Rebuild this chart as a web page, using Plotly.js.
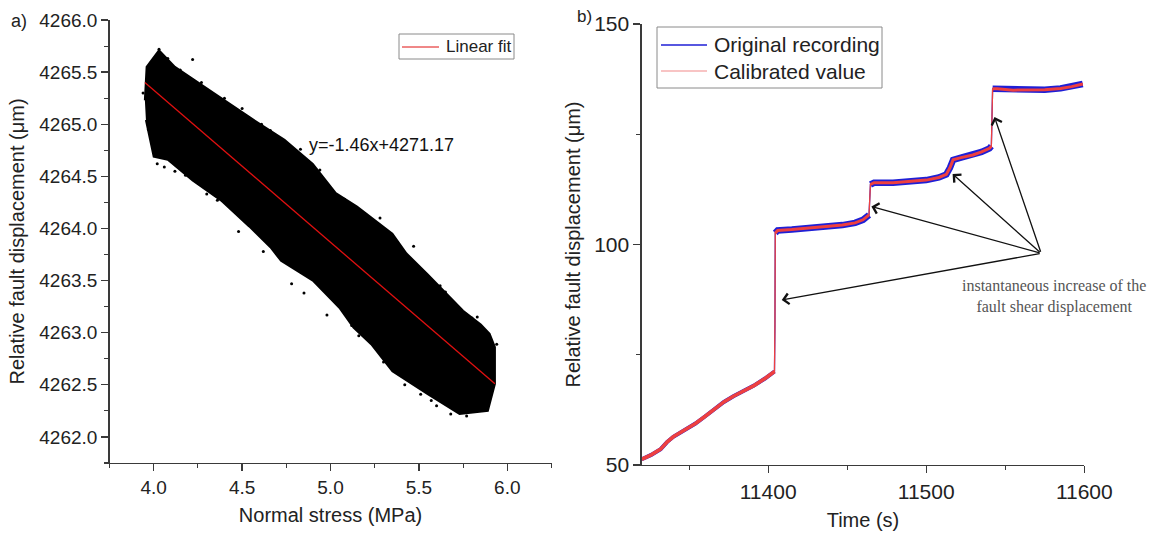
<!DOCTYPE html>
<html><head><meta charset="utf-8">
<script src="https://cdn.plot.ly/plotly-3.0.1.min.js"></script>
<style>html,body{margin:0;padding:0;background:#fff}#chart{width:1164px;height:534px}</style>
</head><body><div id="chart"></div>
<script>
// ---------- Panel a) : scatter cloud envelope (read from picture) ----------
const cloudUpperStress = [3.95, 3.96, 4.03, 4.12, 4.34, 4.54, 4.74, 4.90, 5.03, 5.15, 5.35, 5.43, 5.55, 5.75, 5.85, 5.90, 5.93];
const cloudUpperDisp   = [4265.23, 4265.55, 4265.71, 4265.55, 4265.30, 4265.07, 4264.85, 4264.62, 4264.34, 4264.21, 4263.95, 4263.76, 4263.56, 4263.21, 4263.08, 4262.99, 4262.86];
const cloudLowerStress = [5.93, 5.89, 5.73, 5.55, 5.35, 5.23, 5.13, 5.05, 4.90, 4.72, 4.66, 4.54, 4.38, 4.22, 4.08, 4.00, 3.98, 3.956];
const cloudLowerDisp   = [4262.51, 4262.25, 4262.22, 4262.41, 4262.63, 4262.89, 4263.05, 4263.24, 4263.50, 4263.69, 4263.82, 4264.02, 4264.27, 4264.46, 4264.66, 4264.69, 4264.85, 4265.04];
// isolated points at the fringe of the cloud
const strayStress = [4.22, 4.03, 4.08, 4.50, 4.66, 4.94, 5.01, 5.41, 4.06, 4.18, 4.36, 4.44, 5.65, 5.83, 5.94, 5.68, 5.77, 5.51, 5.23, 5.12, 4.78, 5.57,
  3.94, 3.97, 4.15, 4.27, 4.40, 4.61, 4.83, 5.08, 5.28, 5.47, 5.62, 5.80, 5.91, 5.80, 5.60, 5.42, 5.30, 5.16, 4.98, 4.85, 4.62, 4.48, 4.30, 4.12, 4.02];
const strayDisp   = [4265.62, 4265.72, 4265.63, 4265.15, 4264.94, 4264.56, 4264.36, 4263.76, 4264.59, 4264.51, 4264.27, 4264.22, 4263.39, 4263.15, 4262.89, 4262.22, 4262.20, 4262.41, 4263.02, 4263.07, 4263.47, 4262.35,
  4265.30, 4264.95, 4265.52, 4265.40, 4265.25, 4265.00, 4264.76, 4264.28, 4264.10, 4263.83, 4263.45, 4263.14, 4262.70, 4262.28, 4262.30, 4262.50, 4262.72, 4262.97, 4263.17, 4263.38, 4263.78, 4263.97, 4264.33, 4264.55, 4264.62];
// linear fit y = -1.46x + 4271.17 (end points)
const fitStress = [3.95, 5.93];
const fitDisp   = [4265.40, 4262.51];

// ---------- Panel b) : displacement vs time ----------
const timeS = [11320, 11326, 11332, 11336, 11340, 11347, 11354, 11360, 11366, 11372, 11378, 11384, 11391, 11398, 11404,
  11404.3, 11404.5, 11406, 11415, 11426, 11437, 11447, 11455, 11460, 11463.8,
  11464.7, 11467, 11479, 11490, 11500, 11508, 11512.7, 11515, 11517, 11522, 11529.5, 11535, 11540, 11541.2,
  11541.5, 11542, 11545, 11555, 11565, 11575, 11585, 11592, 11599];
const originalUm = [51.3, 52.3, 53.6, 55.2, 56.4, 57.8, 59.4, 61.0, 62.6, 64.3, 65.6, 66.7, 68.0, 69.6, 71.2,
  82.0, 102.6, 103.2, 103.4, 103.7, 104.0, 104.4, 104.9, 105.6, 106.7,
  113.6, 114.0, 114.0, 114.3, 114.6, 115.2, 115.9, 117.4, 119.2, 119.7, 120.3, 121.0, 121.8, 122.3,
  130.5, 135.3, 135.3, 135.0, 135.0, 135.1, 135.4, 135.8, 136.4];
const calibratedUm = [51.3, 52.3, 53.6, 55.2, 56.4, 57.8, 59.4, 61.0, 62.6, 64.3, 65.6, 66.7, 68.0, 69.6, 71.2,
  82.0, 102.6, 103.2, 103.4, 103.7, 104.0, 104.4, 104.9, 105.6, 106.7,
  113.6, 114.0, 114.0, 114.3, 114.6, 115.2, 115.9, 117.4, 119.2, 119.7, 120.3, 121.0, 121.8, 122.3,
  130.5, 135.3, 135.3, 135.0, 135.0, 135.1, 135.4, 135.8, 136.4];
// arrows: targets (the slip events) and common tail
const arrowTime = [11408.6, 11465.3, 11516.7, 11543.2];
const arrowDisp = [87.4, 108.6, 116.0, 128.9];
const arrowTailTime = 11572.7, arrowTailDisp = 98.0;
const noteLines = ['instantaneous increase of the', 'fault shear displacement'];
const legendA = ['Linear fit'];
const legendB = ['Original recording', 'Calibrated value'];

// ---------- helpers ----------
const FONT = 'Liberation Sans, Arial, sans-serif';
const AX = '#3a3a3a';
const BLUE = '#1f1fd6', RED = '#ee4040', FITRED = '#e01010';
const W = 1164, H = 534;
const px = v => v / W, py = v => 1 - v / H;

function segments(t, v) {   // split a curve where it jumps
  const segs = []; let cur = {x: [t[0]], y: [v[0]]};
  for (let i = 1; i < t.length; i++) {
    if (Math.abs(v[i] - v[i-1]) > 3) { segs.push(cur); cur = {x: [], y: []}; }
    cur.x.push(t[i]); cur.y.push(v[i]);
  }
  segs.push(cur);
  return segs.filter(s => s.x.length > 1);
}

const traces = [];
traces.push({
  x: cloudUpperStress.concat(cloudLowerStress), y: cloudUpperDisp.concat(cloudLowerDisp),
  type: 'scatter', mode: 'lines', fill: 'toself', fillcolor: '#000', line: {color: '#000', width: 2},
  xaxis: 'x', yaxis: 'y', showlegend: false, hoverinfo: 'skip'
});
traces.push({
  x: strayStress, y: strayDisp, type: 'scatter', mode: 'markers',
  marker: {color: '#000', size: 3}, xaxis: 'x', yaxis: 'y', showlegend: false
});
traces.push({
  x: fitStress, y: fitDisp, type: 'scatter', mode: 'lines', name: legendA[0],
  line: {color: FITRED, width: 1.3}, xaxis: 'x', yaxis: 'y', showlegend: false
});

function addSeries(t, v, color, bandW, bandW0, name) {
  segments(t, v).forEach((s, i) => traces.push({
    x: s.x, y: s.y, type: 'scatter', mode: 'lines', line: {color: color, width: i === 0 ? bandW0 : bandW},
    xaxis: 'x2', yaxis: 'y2', showlegend: false, hoverinfo: 'skip'
  }));
  traces.push({
    x: t, y: v, type: 'scatter', mode: 'lines', name: name,
    line: {color: color, width: 1.3}, xaxis: 'x2', yaxis: 'y2', showlegend: false
  });
}
addSeries(timeS, originalUm, BLUE, 6.5, 4, legendB[0]);
addSeries(timeS, calibratedUm, RED, 3, 3.6, legendB[1]);

function minorOf(dtick, tick0) {
  return {ticks: 'outside', ticklen: 4, tickwidth: 1.1, tickcolor: AX, dtick: dtick, tick0: tick0, showgrid: false};
}
function axisBase(extra) {
  return Object.assign({
    showline: true, linecolor: AX, linewidth: 1.3, mirror: false,
    showgrid: false, zeroline: false, ticks: 'outside', ticklen: 7, tickwidth: 1.3, tickcolor: AX,
    tickmode: 'linear', tickfont: {family: FONT, size: 19, color: '#222'}
  }, extra);
}

const annotations = [
  {text: 'a)', xref: 'paper', yref: 'paper', x: px(9), y: py(21), xanchor: 'left', yanchor: 'middle',
   showarrow: false, font: {family: FONT, size: 18, color: '#222'}},
  {text: 'b)', xref: 'paper', yref: 'paper', x: px(575), y: py(17), xanchor: 'left', yanchor: 'middle',
   showarrow: false, font: {family: FONT, size: 17, color: '#222'}},
  {text: 'y=-1.46x+4271.17', xref: 'x', yref: 'y', x: 5.29, y: 4264.8, xanchor: 'center', yanchor: 'middle',
   showarrow: false, font: {family: FONT, size: 18, color: '#111'}},
  {text: noteLines.join('<br>'), xref: 'x2', yref: 'y2', x: 11581, y: 88.1, xanchor: 'center', yanchor: 'middle',
   align: 'center', showarrow: false, font: {family: 'Liberation Serif, Times New Roman, serif', size: 16, color: '#555'}},
  // legend texts
  {text: legendA[0], xref: 'paper', yref: 'paper', x: px(444), y: py(47), xanchor: 'left', yanchor: 'middle',
   showarrow: false, font: {family: FONT, size: 17, color: '#222'}},
  {text: legendB[0], xref: 'paper', yref: 'paper', x: px(712), y: py(45), xanchor: 'left', yanchor: 'middle',
   showarrow: false, font: {family: FONT, size: 21, color: '#222'}},
  {text: legendB[1], xref: 'paper', yref: 'paper', x: px(712), y: py(71), xanchor: 'left', yanchor: 'middle',
   showarrow: false, font: {family: FONT, size: 21, color: '#222'}}
];
arrowTime.forEach((t, i) => annotations.push({
  x: t, y: arrowDisp[i], xref: 'x2', yref: 'y2', ax: arrowTailTime, ay: arrowTailDisp, axref: 'x2', ayref: 'y2',
  text: '', showarrow: true, arrowhead: 4, arrowsize: 1.6, arrowwidth: 1.3, arrowcolor: '#111'
}));

const shapes = [
  // legend a)
  {type: 'rect', xref: 'paper', yref: 'paper', x0: px(399), x1: px(514), y0: py(34), y1: py(59),
   line: {color: '#8a8a8a', width: 1}, fillcolor: '#fff', layer: 'above'},
  {type: 'line', xref: 'paper', yref: 'paper', x0: px(402), x1: px(439), y0: py(47), y1: py(47),
   line: {color: FITRED, width: 1}, layer: 'above'},
  // legend b)
  {type: 'rect', xref: 'paper', yref: 'paper', x0: px(657), x1: px(882), y0: py(27), y1: py(88),
   line: {color: '#8a8a8a', width: 1}, fillcolor: '#fff', layer: 'above'},
  {type: 'line', xref: 'paper', yref: 'paper', x0: px(661), x1: px(707), y0: py(45), y1: py(45),
   line: {color: BLUE, width: 1.3}, layer: 'above'},
  {type: 'line', xref: 'paper', yref: 'paper', x0: px(661), x1: px(707), y0: py(71), y1: py(71),
   line: {color: '#f28a8a', width: 1.2}, layer: 'above'}
];

const layout = {
  width: W, height: H, margin: {l: 0, r: 0, t: 0, b: 0}, paper_bgcolor: '#fff', plot_bgcolor: '#fff',
  font: {family: FONT, color: '#222'}, showlegend: false,
  xaxis: axisBase({domain: [109.5/W, 551.5/W], range: [3.75, 6.25], tick0: 4, dtick: 0.5, tickformat: '.1f',
    anchor: 'y', minor: minorOf(0.25, 3.75),
    title: {text: 'Normal stress (MPa)', font: {family: FONT, size: 20, color: '#222'}, standoff: 11}}),
  yaxis: axisBase({domain: [71/H, 514/H], range: [4261.75, 4266.0], tick0: 4262, dtick: 0.5, tickformat: '.1f',
    anchor: 'x', minor: minorOf(0.25, 4261.75),
    title: {text: 'Relative fault displacement (μm)', font: {family: FONT, size: 20, color: '#222'}, standoff: 9}}),
  xaxis2: axisBase({domain: [641.7/W, 1084.3/W], range: [11320, 11600], tick0: 11400, dtick: 100, tickformat: 'd',
    tickfont: {family: FONT, size: 21, color: '#222'}, anchor: 'y2', minor: minorOf(50, 11350),
    title: {text: 'Time (s)', font: {family: FONT, size: 20, color: '#222'}, standoff: 11}}),
  yaxis2: axisBase({domain: [69/H, 510/H], range: [50, 150], tick0: 50, dtick: 50, tickformat: 'd',
    tickfont: {family: FONT, size: 21, color: '#222'}, anchor: 'x2', minor: minorOf(25, 50),
    title: {text: 'Relative fault displacement (μm)', font: {family: FONT, size: 20, color: '#222'}, standoff: 8}}),
  annotations: annotations,
  shapes: shapes
};

Plotly.newPlot('chart', traces, layout, {displayModeBar: false, staticPlot: true});
</script></body></html>
